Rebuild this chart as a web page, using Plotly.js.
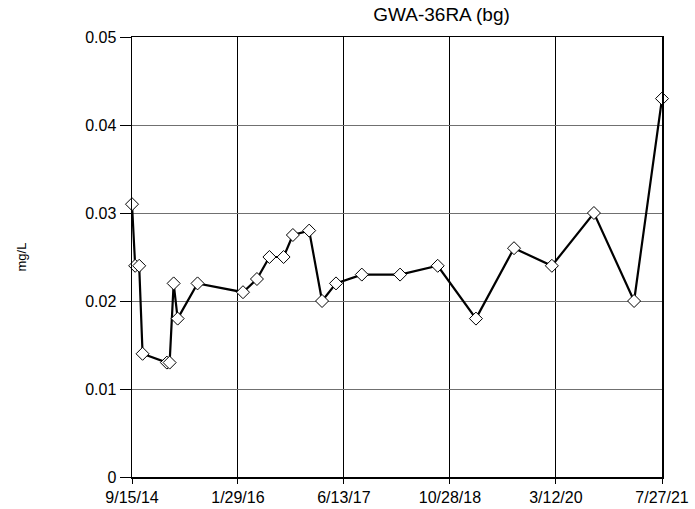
<!DOCTYPE html>
<html>
<head>
<meta charset="utf-8">
<script src="https://cdn.plot.ly/plotly-3.0.1.min.js"></script>
<style>html,body{margin:0;padding:0;background:#fff;}#chart{width:695px;height:509px;}</style>
</head>
<body>
<div id="chart"></div>
<script>
const dates = ['2014-09-15','2014-09-30','2014-10-19','2014-11-04','2015-02-27','2015-03-12','2015-03-31','2015-04-19','2015-07-22','2016-02-22','2016-04-28','2016-06-26','2016-09-01','2016-10-15','2016-12-31','2017-03-02','2017-05-07','2017-09-06','2018-03-06','2018-08-31','2019-02-28','2019-08-27','2020-02-22','2020-09-08','2021-03-17','2021-07-27'];
const values = [0.031,0.024,0.024,0.014,0.013,0.013,0.022,0.018,0.022,0.021,0.0225,0.025,0.025,0.0275,0.028,0.020,0.022,0.023,0.023,0.024,0.018,0.026,0.024,0.030,0.020,0.043];
const xTickVals = ['2014-09-15','2016-01-29','2017-06-13','2018-10-28','2020-03-12','2021-07-27'];
const xTickText = ['9/15/14','1/29/16','6/13/17','10/28/18','3/12/20','7/27/21'];
const yTickVals = [0,0.01,0.02,0.03,0.04,0.05];
const yTickText = ['0','0.01','0.02','0.03','0.04','0.05'];

const trace = {
  x: dates, y: values, type: 'scatter', mode: 'lines+markers',
  line: {color: '#000', width: 2.2},
  marker: {symbol: 'diamond', size: 10, color: '#fff', line: {color: '#000', width: 1}},
  hoverinfo: 'skip', cliponaxis: false
};
const layout = {
  width: 695, height: 509,
  margin: {l: 132, r: 33, t: 37, b: 32},
  paper_bgcolor: '#fff', plot_bgcolor: '#fff',
  font: {family: 'Liberation Sans, Arial, sans-serif', size: 16, color: '#000'},
  showlegend: false,
  title: {text: 'GWA-36RA (bg)', xref: 'paper', x: 0.584, xanchor: 'center', yref: 'container', y: 0.972, yanchor: 'middle', font: {size: 19, color: '#000'}},
  xaxis: {
    type: 'date', range: ['2014-09-15','2021-07-27'],
    tickmode: 'array', tickvals: xTickVals, ticktext: xTickText,
    showgrid: true, gridcolor: '#000', gridwidth: 1,
    showline: true, linecolor: '#000', linewidth: 1.5, mirror: true,
    ticks: 'outside', ticklen: 5, tickcolor: '#000', tickwidth: 1,
    zeroline: false, tickfont: {size: 16}
  },
  yaxis: {
    range: [0, 0.05],
    tickmode: 'array', tickvals: yTickVals, ticktext: yTickText,
    showgrid: true, gridcolor: '#707070', gridwidth: 1,
    showline: true, linecolor: '#000', linewidth: 1.5, mirror: true,
    ticks: 'outside', ticklen: 11, tickcolor: '#000', tickwidth: 1,
    zeroline: false, tickfont: {size: 16},
    title: {text: 'mg/L', font: {size: 13}, standoff: 55}
  }
};
Plotly.newPlot('chart', [trace], layout, {staticPlot: true, displayModeBar: false});
</script>
</body>
</html>
